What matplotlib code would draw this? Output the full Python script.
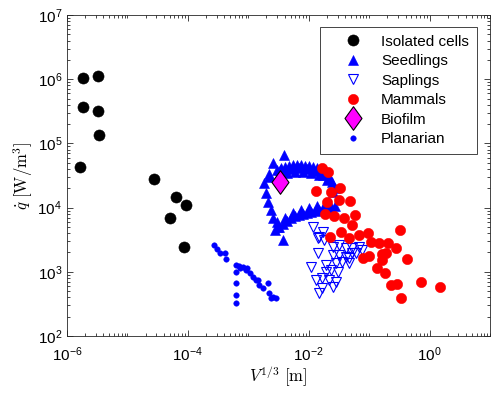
import matplotlib

matplotlib.use("Agg")
import matplotlib.pyplot as plt
from matplotlib.path import Path
from matplotlib.ticker import LogLocator, NullFormatter

# data (V^(1/3) in m, q-dot in W/m^3)
cells_x = [1.86e-6, 3.25e-6, 1.84e-6, 3.29e-6, 3.37e-6, 1.64e-6,
           2.73e-5, 6.3e-5, 9.4e-5, 5.14e-5, 8.6e-5]
cells_q = [1.03e6, 1.11e6, 3.65e5, 3.16e5, 1.37e5, 4.34e4,
           2.76e4, 1.48e4, 1.09e4, 6.8e3, 2.41e3]

seedlings_x = [3.95e-3, 2.54e-3, 1.85e-3, 1.97e-3, 2.10e-3, 2.39e-3, 2.54e-3, 3.07e-3, 3.71e-3,
               3.03e-3, 3.53e-3, 4.11e-3, 4.79e-3, 5.57e-3, 6.49e-3, 7.55e-3, 8.79e-3,
               1.02e-2, 1.19e-2, 1.39e-2, 1.61e-2, 1.88e-2, 2.19e-2, 2.45e-2, 2.75e-2,
               3.27e-3, 4.44e-3, 6.01e-3, 8.15e-3, 1.10e-2, 1.50e-2, 2.03e-2, 2.55e-2,
               2.81e-3, 3.27e-3, 3.81e-3, 4.44e-3, 5.16e-3, 6.01e-3, 7.0e-3, 8.15e-3,
               9.48e-3, 1.10e-2, 1.29e-2, 1.50e-2, 1.74e-2, 2.03e-2, 2.36e-2, 2.75e-2,
               3.03e-3, 4.11e-3, 5.57e-3, 7.55e-3, 1.02e-2, 1.39e-2, 1.88e-2,
               2.2e-3, 3.4e-3, 5.2e-3, 7.0e-3, 9.5e-3, 1.3e-2, 1.75e-2, 2.2e-3]
seedlings_q = [6.59e4, 4.90e4, 2.39e4, 1.67e4, 1.24e4, 9.18e3, 6.81e3, 5.05e3, 3.13e3,
               3.85e4, 4.14e4, 4.29e4, 4.45e4, 4.61e4, 4.61e4, 4.61e4, 4.45e4,
               4.45e4, 4.29e4, 4.14e4, 3.85e4, 3.46e4, 3.00e4, 2.51e4, 2.02e4,
               3.22e4, 3.46e4, 3.59e4, 3.59e4, 3.46e4, 3.22e4, 2.69e4, 1.75e4,
               4.48e3, 4.99e3, 5.55e3, 6.18e3, 6.89e3, 7.40e3, 7.67e3, 7.95e3,
               8.24e3, 8.54e3, 8.85e3, 9.18e3, 9.51e3, 9.86e3, 1.02e4, 1.06e4,
               5.96e3, 6.89e3, 8.24e3, 9.18e3, 9.86e3, 1.06e4, 1.14e4,
               3.4e4, 3.9e4, 4.0e4, 4.1e4, 4.0e4, 3.7e4, 3.2e4, 3.0e4]

saplings_x = [1.16e-2, 1.74e-2, 1.50e-2, 1.81e-2, 2.48e-2, 3.2e-2, 4.13e-2, 5.3e-2, 6.8e-2,
              7.7e-2, 2.48e-2, 3.2e-2, 4.13e-2, 5.3e-2, 6.0e-2, 4.68e-2, 3.62e-2, 2.82e-2,
              4.68e-2, 1.09e-2, 1.93e-2, 1.93e-2, 2.33e-2, 3.0e-2, 1.32e-2, 1.69e-2,
              2.19e-2, 2.82e-2, 2.48e-2, 1.69e-2, 1.5e-2, 1.4e-2, 1.4e-2]
saplings_q = [5.0e3, 4.2e3, 3.5e3, 3.1e3, 2.46e3, 2.61e3, 2.32e3, 2.32e3, 2.46e3,
              2.19e3, 1.83e3, 1.83e3, 1.72e3, 1.94e3, 1.94e3, 1.62e3, 1.44e3, 1.36e3,
              1.36e3, 1.2e3, 1.28e3, 1.0e3, 1.07e3, 1.0e3, 745, 792,
              745, 701, 587, 553, 462, 3.33e3, 1.94e3]

mammals_x = [1.66e-2, 2.05e-2, 1.32e-2, 2.33e-2, 3.28e-2, 1.97e-2, 3.12e-2, 4.8e-2,
             1.88e-2, 2.64e-2, 3.86e-2, 5.9e-2, 5.2e-2, 3.4e-2, 4.56e-2, 2.24e-2,
             6.7e-2, 9.4e-2, 0.107, 0.143, 0.208, 0.283, 0.321, 7.76e-2, 0.1,
             0.162, 0.193, 0.162, 0.429, 0.137, 0.184, 0.228, 0.286, 0.713, 1.47, 0.333]
mammals_q = [4.09e4, 3.62e4, 1.83e4, 1.77e4, 2.0e4, 1.24e4, 1.31e4, 1.28e4,
             7.94e3, 7.4e3, 6.8e3, 7.7e3, 5.36e3, 4.2e3, 3.33e3, 3.52e3,
             3.74e3, 3.98e3, 2.95e3, 2.84e3, 2.78e3, 2.32e3, 4.48e3, 1.62e3, 1.76e3,
             1.89e3, 1.94e3, 1.53e3, 1.58e3, 1.13e3, 949, 622, 646, 701, 587, 386]

biofilm_x = [3.36e-3]
biofilm_q = [2.54e4]

planarian_x = [2.67e-4, 3.02e-4, 3.44e-4, 4.05e-4, 4.2e-4, 6.3e-4, 6.97e-4, 7.16e-4, 8.1e-4,
               9.2e-4, 1.05e-3, 1.19e-3, 1.43e-3, 1.53e-3, 1.73e-3, 2.1e-3, 2.24e-3,
               2.54e-3, 2.88e-3, 2.39e-3, 6.3e-4, 6.3e-4, 6.3e-4, 6.15e-4, 9.7e-4, 1.32e-3]
planarian_q = [2.61e3, 2.26e3, 1.94e3, 1.99e3, 1.57e3, 1.28e3, 1.23e3, 1.13e3, 1.17e3,
               1.07e3, 948, 840, 745, 622, 553, 662, 462,
               409, 386, 386, 1.0e3, 662, 436, 323, 1.15e3, 745]

plt.rcParams["font.family"] = ["Liberation Sans", "DejaVu Sans"]
plt.rcParams["mathtext.fontset"] = "custom"
plt.rcParams["mathtext.rm"] = "Liberation Sans"
plt.rcParams["mathtext.it"] = "Liberation Sans:italic"
plt.rcParams["mathtext.bf"] = "Liberation Sans:bold"

# slightly tall diamond like MATLAB's
diamond = Path([(0, 1), (0.72, 0), (0, -1), (-0.72, 0), (0, 1)],
               [Path.MOVETO, Path.LINETO, Path.LINETO, Path.LINETO, Path.CLOSEPOLY])

fig = plt.figure(figsize=(4.98, 3.96), dpi=100)
ax = fig.add_axes([0.1345, 0.1515, 0.8495, 0.8105])

ax.plot(cells_x, cells_q, "o", color="black", ms=8.0, mew=0.4, label="Isolated cells")
ax.plot(seedlings_x, seedlings_q, "^", color="blue", ms=6.8, mew=0.4, label="Seedlings")
ax.plot(saplings_x, saplings_q, "v", mfc="none", mec="blue", mew=0.8, ms=7.8, label="Saplings")
ax.plot(mammals_x, mammals_q, "o", color="red", ms=7.4, mew=0.4, label="Mammals")
ax.plot(biofilm_x, biofilm_q, marker=diamond, ls="none", mfc="magenta", mec="black",
        mew=0.8, ms=17, label="Biofilm")
ax.plot(planarian_x, planarian_q, "o", color="blue", ms=4.0, mew=0.3, label="Planarian")

ax.set_xscale("log")
ax.set_yscale("log")
ax.set_xlim(1e-6, 1e1)
ax.set_ylim(1e2, 1e7)
ax.set_xticks([1e-6, 1e-4, 1e-2, 1e0])
ax.xaxis.set_minor_locator(LogLocator(base=10, subs=[1, 2, 3, 4, 5, 6, 7, 8, 9], numticks=40))
ax.xaxis.set_minor_formatter(NullFormatter())
ax.set_yticks([1e2, 1e3, 1e4, 1e5, 1e6, 1e7])
ax.yaxis.set_minor_locator(LogLocator(base=10, subs=[2, 3, 4, 5, 6, 7, 8, 9], numticks=40))
ax.yaxis.set_minor_formatter(NullFormatter())

ax.tick_params(which="both", direction="in", top=True, right=True, labelsize=11,
               color="#262626", width=0.6)
ax.tick_params(which="major", length=4.5)
ax.tick_params(which="minor", length=2.5)
ax.tick_params(axis="x", which="major", pad=7)
for sp in ax.spines.values():
    sp.set_color("#262626")
    sp.set_linewidth(0.6)

ax.set_xlabel(r"$V^{1/3}\ [\mathrm{m}]$", fontsize=12, math_fontfamily="cm", labelpad=0)
ax.set_ylabel(r"$\dot{q}\ [\mathrm{W/m}^3]$", fontsize=12, math_fontfamily="cm", labelpad=2)

leg = ax.legend(loc="upper right", bbox_to_anchor=(0.9686, 0.9626), borderaxespad=0,
                fontsize=11, frameon=True, fancybox=False, framealpha=1,
                edgecolor="#262626", labelspacing=0.36, handlelength=3.3,
                handletextpad=0.2, borderpad=0.5)
leg.get_frame().set_linewidth(0.6)

fig.savefig("out.png", dpi=100)
